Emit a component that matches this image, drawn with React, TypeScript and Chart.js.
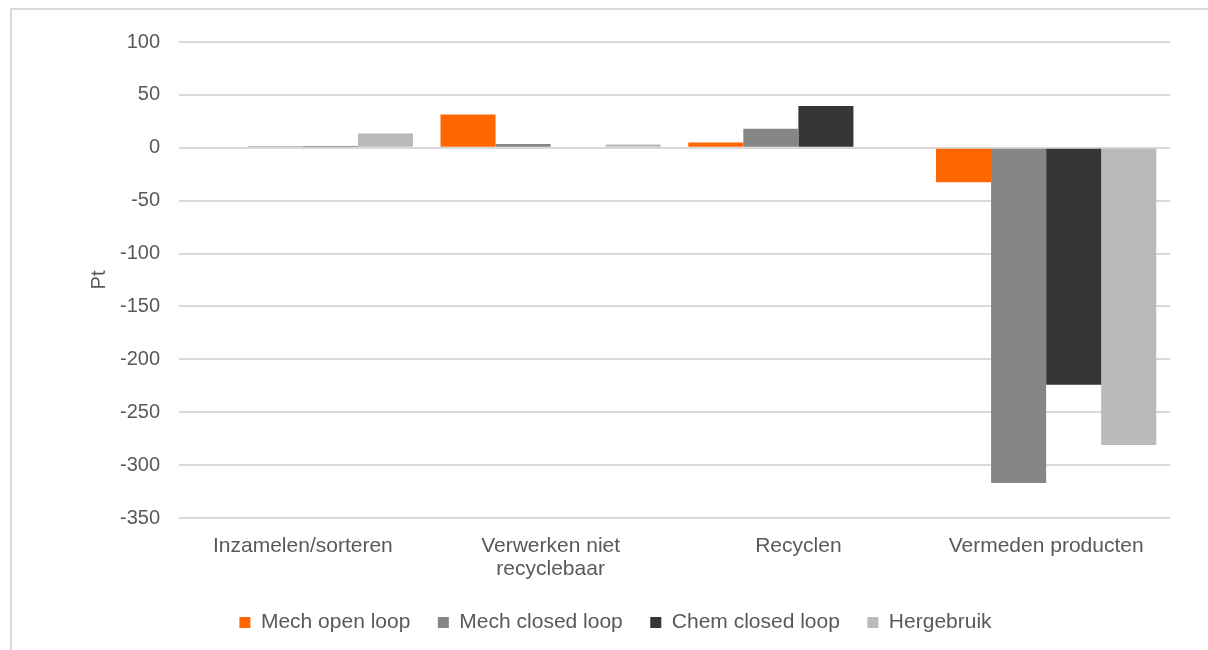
import React, { useEffect, useRef } from "react";
import { Chart, registerables } from "chart.js";

Chart.register(...registerables);

// Categories (x-axis) — multi-line labels are arrays
const categories: (string | string[])[] = [
  "Inzamelen/sorteren",
  ["Verwerken niet", "recyclebaar"],
  "Recyclen",
  "Vermeden producten",
];

// Series values in Pt
const mechOpenLoop = [0, 31.5, 5, -32.5];
const mechClosedLoop = [1.5, 3.5, 18, -317];
const chemClosedLoop = [1.5, 0, 39.5, -224];
const hergebruik = [13.5, 3, 0, -281];

const seriesNames = ["Mech open loop", "Mech closed loop", "Chem closed loop", "Hergebruik"];
const seriesColors = ["#ff6600", "#868686", "#363636", "#bababa"];

// Y axis range
const yMin = -350;
const yMax = 100;
const yStep = 50;

const FONT = "'Liberation Sans', Arial, sans-serif";
const TEXT = "#595959";
const GRID = "#d9d9d9";

// Nudges the legend block slightly left/down after layout
const legendOffset = {
  id: "legendOffset",
  afterLayout(chart: any) {
    const lg = chart.legend;
    if (!lg) return;
    lg.left -= 13;
    lg.right -= 13;
    lg.top += 2;
    lg.bottom += 2;
  },
};

export default function App() {
  const canvasRef = useRef<HTMLCanvasElement | null>(null);

  useEffect(() => {
    if (!canvasRef.current) return;
    const values = [mechOpenLoop, mechClosedLoop, chemClosedLoop, hergebruik];
    const chart = new Chart(canvasRef.current, {
      type: "bar",
      data: {
        labels: categories,
        datasets: values.map((v, i) => ({
          label: seriesNames[i],
          data: v,
          backgroundColor: seriesColors[i],
          borderWidth: 0,
          barPercentage: 1,
          categoryPercentage: 0.889,
        })),
      },
      options: {
        animation: false,
        responsive: false,
        maintainAspectRatio: false,
        layout: { padding: { left: 87, right: 38, top: 42, bottom: 9 } },
        plugins: {
          tooltip: { enabled: false },
          legend: {
            position: "bottom",
            labels: {
              boxWidth: 11,
              boxHeight: 11,
              padding: 27.5,
              color: TEXT,
              font: { family: FONT, size: 21 },
            },
          },
        },
        scales: {
          x: {
            grid: { display: false, drawTicks: false },
            border: { display: false },
            ticks: {
              color: TEXT,
              padding: 16.5,
              maxRotation: 0,
              autoSkip: false,
              font: { family: FONT, size: 21, lineHeight: 1.1 },
            },
            afterFit: (scale: any) => {
              scale.height = 64.5;
            },
          },
          y: {
            min: yMin,
            max: yMax,
            ticks: {
              stepSize: yStep,
              color: TEXT,
              padding: 19,
              font: { family: FONT, size: 20 },
            },
            grid: { color: GRID, lineWidth: 2, drawTicks: false },
            border: { display: false },
            title: {
              display: true,
              text: "Pt",
              color: TEXT,
              padding: 0,
              font: { family: FONT, size: 20 },
            },
            afterFit: (scale: any) => {
              scale.width = 92;
            },
          },
        },
      },
      plugins: [legendOffset],
    });
    return () => chart.destroy();
  }, []);

  return (
    <div
      style={{
        position: "fixed",
        left: 0,
        top: 0,
        width: 1208,
        height: 650,
        overflow: "hidden",
        background: "#fff",
      }}
    >
      <div
        style={{
          position: "absolute",
          left: 10,
          top: 8,
          width: 1300,
          height: 800,
          border: "2px solid #d9d9d9",
        }}
      />
      <canvas
        ref={canvasRef}
        width={1208}
        height={650}
        style={{ position: "absolute", left: 0, top: 0 }}
      />
    </div>
  );
}
